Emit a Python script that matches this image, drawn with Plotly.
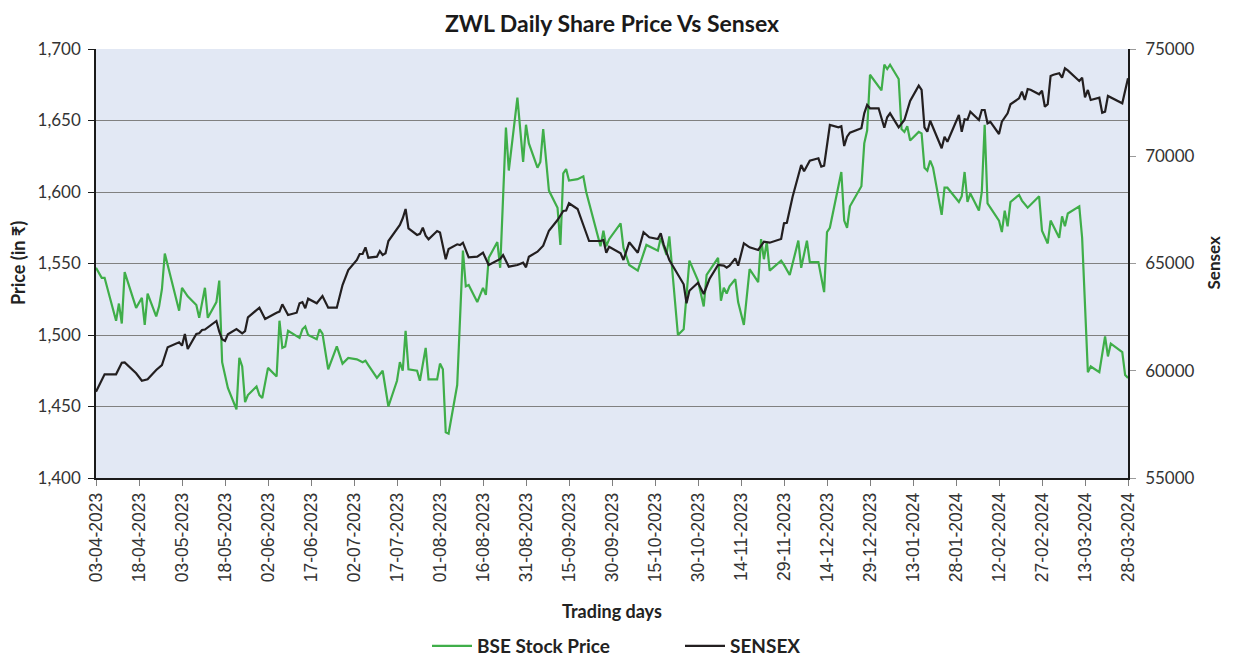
import plotly.graph_objects as go

bse_dates = [
    "2023-04-03", "2023-04-05", "2023-04-06", "2023-04-10", "2023-04-11", "2023-04-12", "2023-04-13", "2023-04-17", "2023-04-19", "2023-04-20",
    "2023-04-21", "2023-04-24", "2023-04-25", "2023-04-26", "2023-04-27", "2023-05-02", "2023-05-03", "2023-05-05", "2023-05-08", "2023-05-09",
    "2023-05-11", "2023-05-12", "2023-05-15", "2023-05-16", "2023-05-17", "2023-05-19", "2023-05-22", "2023-05-23", "2023-05-24", "2023-05-25",
    "2023-05-26", "2023-05-29", "2023-05-30", "2023-05-31", "2023-06-02", "2023-06-05", "2023-06-06", "2023-06-07", "2023-06-08", "2023-06-09",
    "2023-06-13", "2023-06-14", "2023-06-15", "2023-06-16", "2023-06-19", "2023-06-20", "2023-06-21", "2023-06-23", "2023-06-26", "2023-06-28",
    "2023-06-30", "2023-07-03", "2023-07-05", "2023-07-06", "2023-07-07", "2023-07-10", "2023-07-12", "2023-07-13", "2023-07-14", "2023-07-17",
    "2023-07-18", "2023-07-19", "2023-07-20", "2023-07-21", "2023-07-24", "2023-07-25", "2023-07-27", "2023-07-28", "2023-07-31", "2023-08-01",
    "2023-08-02", "2023-08-03", "2023-08-04", "2023-08-07", "2023-08-09", "2023-08-10", "2023-08-11", "2023-08-14", "2023-08-16", "2023-08-17",
    "2023-08-18", "2023-08-21", "2023-08-22", "2023-08-24", "2023-08-25", "2023-08-28", "2023-08-30", "2023-08-31", "2023-09-01", "2023-09-04",
    "2023-09-05", "2023-09-06", "2023-09-08", "2023-09-11", "2023-09-12", "2023-09-13", "2023-09-14", "2023-09-15", "2023-09-18", "2023-09-20",
    "2023-09-21", "2023-09-26", "2023-09-27", "2023-09-28", "2023-09-29", "2023-10-03", "2023-10-04", "2023-10-06", "2023-10-09", "2023-10-12",
    "2023-10-16", "2023-10-17", "2023-10-19", "2023-10-20", "2023-10-23", "2023-10-25", "2023-10-27", "2023-10-30", "2023-11-01", "2023-11-02",
    "2023-11-06", "2023-11-07", "2023-11-08", "2023-11-09", "2023-11-10", "2023-11-12", "2023-11-13", "2023-11-15", "2023-11-17", "2023-11-20",
    "2023-11-21", "2023-11-22", "2023-11-23", "2023-11-24", "2023-11-28", "2023-11-29", "2023-12-01", "2023-12-04", "2023-12-05", "2023-12-07",
    "2023-12-08", "2023-12-11", "2023-12-13", "2023-12-14", "2023-12-15", "2023-12-19", "2023-12-20", "2023-12-21", "2023-12-22", "2023-12-26",
    "2023-12-27", "2023-12-28", "2023-12-29", "2024-01-02", "2024-01-03", "2024-01-04", "2024-01-05", "2024-01-08", "2024-01-09", "2024-01-10",
    "2024-01-11", "2024-01-12", "2024-01-15", "2024-01-16", "2024-01-17", "2024-01-18", "2024-01-19", "2024-01-20", "2024-01-23", "2024-01-24",
    "2024-01-25", "2024-01-29", "2024-01-30", "2024-01-31", "2024-02-01", "2024-02-02", "2024-02-05", "2024-02-06", "2024-02-07", "2024-02-08",
    "2024-02-12", "2024-02-13", "2024-02-14", "2024-02-15", "2024-02-16", "2024-02-19", "2024-02-20", "2024-02-22", "2024-02-26", "2024-02-27",
    "2024-02-29", "2024-03-01", "2024-03-04", "2024-03-05", "2024-03-06", "2024-03-07", "2024-03-11", "2024-03-12", "2024-03-14", "2024-03-15",
    "2024-03-18", "2024-03-20", "2024-03-21", "2024-03-22", "2024-03-26", "2024-03-27", "2024-03-28",
]

bse_price = [
    1547, 1540, 1540, 1510, 1522, 1508, 1544, 1519, 1526, 1507,
    1529, 1513, 1520, 1532, 1557, 1517, 1533, 1527, 1521, 1512,
    1533, 1512, 1523, 1538, 1481, 1463, 1448, 1484, 1478, 1453,
    1458, 1464, 1458, 1456, 1477, 1471, 1510, 1491, 1492, 1503,
    1498, 1504, 1506, 1500, 1497, 1504, 1501, 1476, 1492, 1480,
    1484, 1483, 1481, 1482, 1479, 1470, 1475, 1461, 1450, 1468,
    1481, 1475, 1503, 1476, 1475, 1468, 1491, 1469, 1469, 1480,
    1476, 1432, 1431, 1465, 1559, 1534, 1535, 1523, 1533, 1528,
    1554, 1565, 1547, 1645, 1615, 1666, 1621, 1647, 1634, 1617,
    1621, 1644, 1601, 1589, 1563, 1613, 1616, 1608, 1609, 1611,
    1600, 1562, 1573, 1562, 1567, 1578, 1561, 1549, 1545, 1563,
    1559, 1568, 1556, 1569, 1500, 1504, 1552, 1538, 1520, 1542,
    1554, 1524, 1533, 1529, 1534, 1539, 1523, 1507, 1546, 1537,
    1567, 1553, 1565, 1545, 1552, 1549, 1542, 1566, 1547, 1566,
    1551, 1551, 1530, 1572, 1575, 1614, 1580, 1575, 1590, 1604,
    1634, 1643, 1682, 1671, 1689, 1686, 1689, 1679, 1644, 1642,
    1646, 1636, 1642, 1641, 1617, 1615, 1622, 1617, 1584, 1603,
    1603, 1593, 1597, 1614, 1593, 1599, 1587, 1600, 1647, 1592,
    1580, 1572, 1587, 1576, 1593, 1598, 1594, 1589, 1597, 1573,
    1564, 1580, 1568, 1583, 1576, 1585, 1590, 1568, 1474, 1478,
    1474, 1499, 1485, 1494, 1488, 1472, 1470,
]

sensex_dates = [
    "2023-04-03", "2023-04-06", "2023-04-10", "2023-04-12", "2023-04-13", "2023-04-17", "2023-04-19", "2023-04-21", "2023-04-24", "2023-04-26",
    "2023-04-28", "2023-05-02", "2023-05-03", "2023-05-04", "2023-05-05", "2023-05-08", "2023-05-09", "2023-05-10", "2023-05-11", "2023-05-15",
    "2023-05-16", "2023-05-17", "2023-05-18", "2023-05-19", "2023-05-22", "2023-05-24", "2023-05-25", "2023-05-26", "2023-05-30", "2023-06-01",
    "2023-06-05", "2023-06-06", "2023-06-07", "2023-06-09", "2023-06-12", "2023-06-13", "2023-06-14", "2023-06-15", "2023-06-16", "2023-06-19",
    "2023-06-21", "2023-06-23", "2023-06-26", "2023-06-28", "2023-06-30", "2023-07-03", "2023-07-04", "2023-07-05", "2023-07-06", "2023-07-07",
    "2023-07-10", "2023-07-11", "2023-07-12", "2023-07-13", "2023-07-14", "2023-07-18", "2023-07-19", "2023-07-20", "2023-07-21", "2023-07-24",
    "2023-07-25", "2023-07-26", "2023-07-27", "2023-07-28", "2023-07-31", "2023-08-01", "2023-08-03", "2023-08-04", "2023-08-07", "2023-08-08",
    "2023-08-09", "2023-08-11", "2023-08-14", "2023-08-16", "2023-08-18", "2023-08-21", "2023-08-22", "2023-08-23", "2023-08-25", "2023-08-28",
    "2023-08-30", "2023-08-31", "2023-09-01", "2023-09-04", "2023-09-06", "2023-09-08", "2023-09-11", "2023-09-13", "2023-09-14", "2023-09-15",
    "2023-09-18", "2023-09-20", "2023-09-22", "2023-09-25", "2023-09-26", "2023-09-27", "2023-09-28", "2023-09-29", "2023-10-03", "2023-10-04",
    "2023-10-06", "2023-10-09", "2023-10-11", "2023-10-13", "2023-10-16", "2023-10-17", "2023-10-18", "2023-10-20", "2023-10-25", "2023-10-26",
    "2023-10-27", "2023-10-30", "2023-11-01", "2023-11-03", "2023-11-06", "2023-11-08", "2023-11-09", "2023-11-10", "2023-11-12", "2023-11-13",
    "2023-11-15", "2023-11-17", "2023-11-20", "2023-11-22", "2023-11-24", "2023-11-28", "2023-11-29", "2023-11-30", "2023-12-02", "2023-12-05",
    "2023-12-06", "2023-12-08", "2023-12-11", "2023-12-12", "2023-12-13", "2023-12-15", "2023-12-18", "2023-12-19", "2023-12-20", "2023-12-21",
    "2023-12-22", "2023-12-26", "2023-12-27", "2023-12-28", "2023-12-29", "2024-01-01", "2024-01-03", "2024-01-04", "2024-01-05", "2024-01-08",
    "2024-01-09", "2024-01-10", "2024-01-12", "2024-01-14", "2024-01-15", "2024-01-16", "2024-01-17", "2024-01-18", "2024-01-19", "2024-01-23",
    "2024-01-24", "2024-01-25", "2024-01-29", "2024-01-30", "2024-01-31", "2024-02-01", "2024-02-02", "2024-02-05", "2024-02-06", "2024-02-07",
    "2024-02-08", "2024-02-09", "2024-02-12", "2024-02-13", "2024-02-15", "2024-02-16", "2024-02-19", "2024-02-20", "2024-02-21", "2024-02-22",
    "2024-02-23", "2024-02-26", "2024-02-27", "2024-02-28", "2024-02-29", "2024-03-01", "2024-03-02", "2024-03-04", "2024-03-05", "2024-03-06",
    "2024-03-07", "2024-03-11", "2024-03-12", "2024-03-13", "2024-03-14", "2024-03-15", "2024-03-18", "2024-03-19", "2024-03-20", "2024-03-21",
    "2024-03-26", "2024-03-28",
]

sensex_vals = [
    59023, 59834, 59834, 60375, 60390, 59881, 59536, 59601, 60035, 60268,
    61094, 61327, 61171, 61713, 61014, 61713, 61750, 61900, 61920, 62320,
    61820, 61467, 61387, 61700, 61946, 61746, 61850, 62492, 62940, 62413,
    62706, 62760, 63098, 62599, 62706, 63145, 63200, 62911, 63359, 63145,
    63485, 62940, 62940, 63998, 64697, 65163, 65443, 65443, 65755, 65270,
    65317, 65583, 65400, 65480, 66049, 66795, 67108, 67541, 66641, 66329,
    66380, 66670, 66296, 66128, 66515, 66450, 65196, 65676, 65895, 65860,
    65970, 65289, 65317, 65504, 64930, 65163, 65210, 65396, 64851, 64930,
    65038, 64823, 65317, 65550, 65830, 66529, 67028, 67448, 67470, 67807,
    67541, 66795, 66049, 66049, 66049, 66096, 65504, 65783, 65476, 65163,
    65988, 65504, 66455, 66222, 66142, 66409, 65895, 65163, 64030, 63145,
    63732, 64105, 63578, 64277, 64930, 64900, 64804, 64900, 65242, 64897,
    65942, 65755, 65630, 66016, 65970, 66142, 66874, 66900, 68114, 69592,
    69300, 69793, 69904, 69515, 69560, 71457, 71349, 71400, 70478, 70911,
    71098, 71303, 72002, 72389, 72235, 72235, 71331, 71816, 72002, 71349,
    71500, 71690, 72576, 73042, 73289, 73089, 71349, 71144, 71657, 70371,
    70911, 70678, 71923, 71144, 71723, 71700, 72077, 71690, 72157, 72157,
    71536, 71600, 71037, 71611, 72002, 72422, 72702, 73011, 72622, 73135,
    73100, 72888, 73056, 72310, 72430, 73741, 73800, 73867, 73662, 74100,
    74000, 73508, 73662, 72748, 73089, 72622, 72730, 72030, 72080, 72809,
    72469, 73634,
]

GREEN = "#3FAE49"
BLACK = "#231F20"
BOLD_FONT = "Lato"

fig = go.Figure()
fig.add_trace(go.Scatter(x=bse_dates, y=bse_price, name="BSE Stock Price", mode="lines",
                         line=dict(color=GREEN, width=2.2), yaxis="y"))
fig.add_trace(go.Scatter(x=sensex_dates, y=sensex_vals, name="SENSEX", mode="lines",
                         line=dict(color=BLACK, width=2.2), yaxis="y2"))

# page body has an 8px margin, so the figure is sized/offset to land the plot
# area at the reference's page coordinates
fig.update_layout(
    width=1230, height=652,
    margin=dict(l=88, r=110, t=41, b=182, autoexpand=False),
    paper_bgcolor="white",
    plot_bgcolor="#E2E8F4",
    title=dict(text="<b>ZWL Daily Share Price Vs Sensex</b>", x=(604 / 1230), xanchor="center",
               y=1 - 16 / 652, yanchor="middle", font=dict(family=BOLD_FONT, size=23, color="#1a1a1a")),
    xaxis=dict(
        type="date", range=["2023-04-03", "2024-03-28"],
        tick0="2023-04-03", dtick=15 * 86400000, tickformat="%d-%m-%Y", tickangle=-90,
        ticks="outside", ticklen=6, tickcolor="#7f7f7f",
        showline=True, linecolor="#1a1a1a", linewidth=1.5,
        showgrid=False, zeroline=False, automargin=False,
        tickfont=dict(family="Liberation Sans", size=17.5, color="#333333"),
    ),
    yaxis=dict(
        range=[1400, 1700], dtick=50, tickformat=",d",
        ticks="outside", ticklen=6, tickcolor="#1a1a1a", ticklabelstandoff=4,
        showline=True, linecolor="#1a1a1a", linewidth=1.5,
        showgrid=True, gridcolor="#808080", gridwidth=1, zeroline=False, automargin=False,
        tickfont=dict(family="Lato", size=17, color="#333333"),
    ),
    yaxis2=dict(
        range=[55000, 75000], dtick=5000, tickformat="d",
        overlaying="y", side="right",
        ticks="outside", ticklen=6, tickcolor="#9a9a9a", ticklabelstandoff=6,
        showline=True, linecolor="#1a1a1a", linewidth=1.5,
        showgrid=False, zeroline=False, automargin=False,
        tickfont=dict(family="Lato", size=17, color="#333333"),
    ),
    legend=dict(orientation="h", xref="paper", x=(419 - 88) / 1032, xanchor="left",
                yref="container", y=1 - 638 / 652, yanchor="middle",
                font=dict(family=BOLD_FONT, size=19, color="#222222", weight="bold"),
                itemwidth=40, entrywidth=198, entrywidthmode="pixels"),
    showlegend=True,
    annotations=[
        dict(text="<b>Trading days</b>", xref="paper", yref="paper", x=0.5, y=-0.31,
             xanchor="center", yanchor="middle", showarrow=False,
             font=dict(family=BOLD_FONT, size=18, color="#222222")),
        dict(text="<b>Price (in ₹)</b>", xref="paper", yref="paper", x=(9.5 - 88) / 1032, y=0.5,
             xanchor="center", yanchor="middle", textangle=-90, showarrow=False,
             font=dict(family=BOLD_FONT, size=18, color="#222222")),
        dict(text="<b>Sensex</b>", xref="paper", yref="paper", x=(1205 - 88) / 1032, y=0.5,
             xanchor="center", yanchor="middle", textangle=-90, showarrow=False,
             font=dict(family=BOLD_FONT, size=17, color="#222222")),
    ],
)

fig.write_html("out.html")
